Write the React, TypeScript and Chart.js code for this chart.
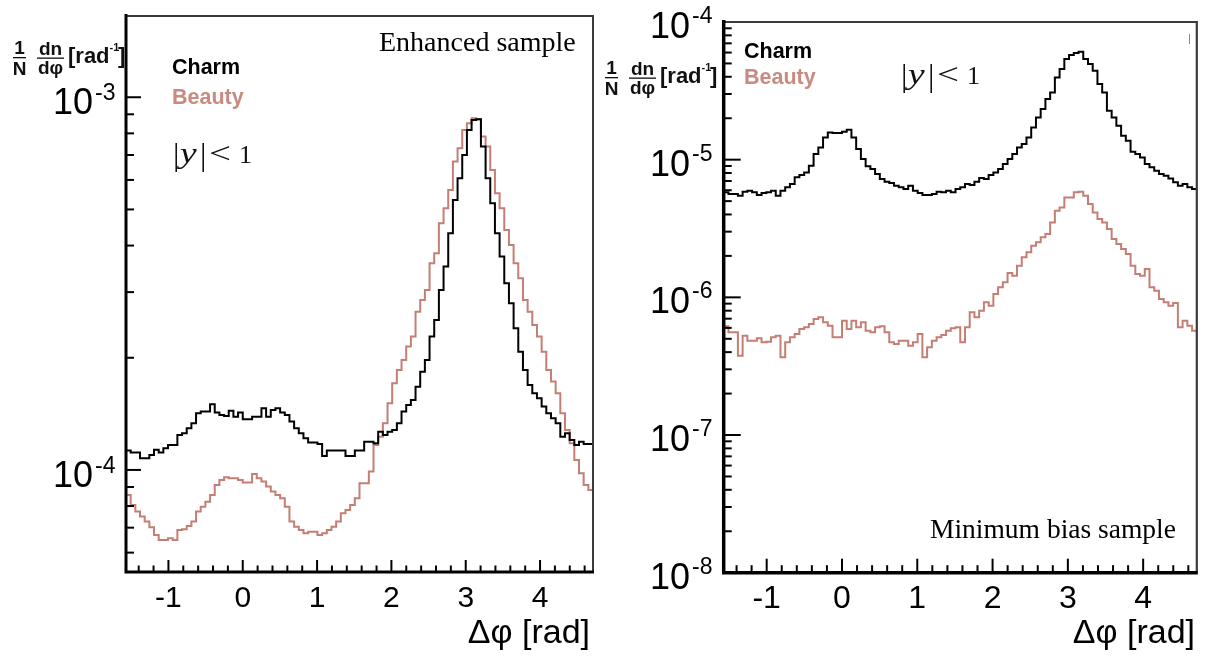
import React, { useEffect, useRef } from "react";
import { Chart, registerables } from "chart.js";

Chart.register(...registerables);

// ---------------- data ----------------
const PHI_MIN = -Math.PI / 2;
const PHI_MAX = (3 * Math.PI) / 2;
const X_TICKS = [-1, 0, 1, 2, 3, 4];

// Enhanced sample (left panel), 100 bins in delta-phi
const enhancedCharm = [
  1.127e-4, 1.113e-4, 1.113e-4, 1.075e-4, 1.075e-4, 1.097e-4, 1.132e-4, 1.113e-4, 1.143e-4, 1.167e-4,
  1.167e-4, 1.241e-4, 1.254e-4, 1.293e-4, 1.334e-4, 1.419e-4, 1.434e-4, 1.434e-4, 1.5e-4, 1.425e-4,
  1.405e-4, 1.396e-4, 1.442e-4, 1.39e-4, 1.425e-4, 1.367e-4, 1.367e-4, 1.39e-4, 1.39e-4, 1.463e-4,
  1.39e-4, 1.449e-4, 1.463e-4, 1.425e-4, 1.405e-4, 1.348e-4, 1.293e-4, 1.254e-4, 1.216e-4, 1.184e-4,
  1.184e-4, 1.174e-4, 1.09e-4, 1.127e-4, 1.127e-4, 1.127e-4, 1.127e-4, 1.09e-4, 1.09e-4, 1.127e-4,
  1.127e-4, 1.191e-4, 1.191e-4, 1.179e-4, 1.267e-4, 1.241e-4, 1.267e-4, 1.28e-4, 1.334e-4, 1.434e-4,
  1.494e-4, 1.541e-4, 1.673e-4, 1.835e-4, 1.973e-4, 2.279e-4, 2.526e-4, 3.041e-4, 3.512e-4, 4.315e-4,
  5.302e-4, 6.062e-4, 7.003e-4, 8.172e-4, 8.692e-4, 8.728e-4, 7.373e-4, 6.062e-4, 5.194e-4, 4.315e-4,
  3.736e-4, 3.168e-4, 2.801e-4, 2.399e-4, 2.077e-4, 1.854e-4, 1.69e-4, 1.605e-4, 1.557e-4, 1.479e-4,
  1.419e-4, 1.376e-4, 1.334e-4, 1.228e-4, 1.254e-4, 1.204e-4, 1.167e-4, 1.191e-4, 1.174e-4, 1.174e-4,
];

const enhancedBeauty = [
  8.568e-5, 8.054e-5, 7.73e-5, 7.495e-5, 7.267e-5, 7.017e-5, 6.692e-5, 6.489e-5, 6.489e-5, 6.555e-5,
  6.489e-5, 6.902e-5, 6.931e-5, 7.074e-5, 7.267e-5, 7.73e-5, 7.971e-5, 8.222e-5, 8.568e-5, 9.114e-5,
  9.4e-5, 9.556e-5, 9.497e-5, 9.497e-5, 9.4e-5, 9.248e-5, 9.248e-5, 9.756e-5, 9.497e-5, 9.305e-5,
  9.021e-5, 8.747e-5, 8.568e-5, 8.394e-5, 7.971e-5, 7.267e-5, 7.045e-5, 6.902e-5, 6.761e-5, 6.831e-5,
  6.831e-5, 6.692e-5, 6.761e-5, 6.902e-5, 7.045e-5, 7.267e-5, 7.651e-5, 7.811e-5, 8.054e-5, 8.394e-5,
  9.209e-5, 9.209e-5, 9.897e-5, 1.167e-4, 1.228e-4, 1.334e-4, 1.51e-4, 1.708e-4, 1.854e-4, 1.973e-4,
  2.143e-4, 2.279e-4, 2.659e-4, 2.858e-4, 3.041e-4, 3.585e-4, 3.813e-4, 4.592e-4, 5.035e-4, 5.641e-4,
  6.722e-4, 7.295e-4, 8.172e-4, 8.515e-4, 8.782e-4, 8.728e-4, 7.842e-4, 7.373e-4, 6.38e-4, 5.526e-4,
  5.035e-4, 4.406e-4, 4.015e-4, 3.585e-4, 3.267e-4, 2.858e-4, 2.659e-4, 2.449e-4, 2.279e-4, 2.077e-4,
  1.854e-4, 1.726e-4, 1.605e-4, 1.419e-4, 1.28e-4, 1.179e-4, 1.064e-4, 9.797e-5, 9.116e-5, 8.837e-5,
];

// Minimum bias sample (right panel), 100 bins in delta-phi
const minbiasCharm = [
  5.788e-6, 5.629e-6, 5.629e-6, 5.474e-6, 5.853e-6, 5.951e-6, 5.788e-6, 5.535e-6, 5.724e-6, 5.788e-6,
  5.951e-6, 5.474e-6, 5.951e-6, 6.294e-6, 6.653e-6, 7.438e-6, 7.733e-6, 8.086e-6, 9.042e-6, 1.099e-5,
  1.228e-5, 1.452e-5, 1.578e-5, 1.561e-5, 1.561e-5, 1.596e-5, 1.65e-5, 1.452e-5, 1.194e-5, 1.011e-5,
  8.94e-6, 8.551e-6, 7.863e-6, 7.233e-6, 6.918e-6, 6.765e-6, 6.471e-6, 6.294e-6, 6.119e-6, 6.471e-6,
  5.951e-6, 5.724e-6, 5.535e-6, 5.535e-6, 5.629e-6, 5.853e-6, 5.788e-6, 5.951e-6, 5.788e-6, 6.119e-6,
  6.294e-6, 6.653e-6, 6.543e-6, 6.918e-6, 7.354e-6, 7.233e-6, 7.733e-6, 8.086e-6, 8.551e-6, 9.296e-6,
  1.011e-5, 1.099e-5, 1.228e-5, 1.298e-5, 1.452e-5, 1.716e-5, 2.028e-5, 2.332e-5, 2.756e-5, 3.081e-5,
  3.96e-5, 4.551e-5, 5.378e-5, 5.751e-5, 5.946e-5, 6.081e-5, 5.378e-5, 4.95e-5, 4.426e-5, 3.542e-5,
  3.081e-5, 2.268e-5, 2.028e-5, 1.764e-5, 1.493e-5, 1.373e-5, 1.143e-5, 1.099e-5, 1.039e-5, 9.296e-6,
  8.792e-6, 8.316e-6, 7.863e-6, 7.647e-6, 7.313e-6, 6.841e-6, 6.471e-6, 6.653e-6, 6.294e-6, 6.119e-6,
];

const minbiasBeauty = [
  6.157e-7, 5.568e-7, 5.568e-7, 3.771e-7, 5.266e-7, 4.844e-7, 4.844e-7, 5.037e-7, 4.711e-7, 4.764e-7,
  5.122e-7, 5.266e-7, 3.667e-7, 4.711e-7, 5.122e-7, 5.415e-7, 5.888e-7, 6.054e-7, 6.401e-7, 6.963e-7,
  7.159e-7, 6.581e-7, 6.225e-7, 5.122e-7, 5.122e-7, 6.771e-7, 5.888e-7, 6.771e-7, 6.054e-7, 6.581e-7,
  5.726e-7, 5.568e-7, 6.054e-7, 6.157e-7, 5.568e-7, 4.711e-7, 4.582e-7, 4.844e-7, 4.844e-7, 4.456e-7,
  4.711e-7, 5.415e-7, 3.667e-7, 4.333e-7, 4.844e-7, 5.122e-7, 5.325e-7, 5.726e-7, 5.953e-7, 6.054e-7,
  4.711e-7, 6.054e-7, 7.781e-7, 7.159e-7, 8.0e-7, 9.199e-7, 8.7e-7, 1.057e-6, 1.182e-6, 1.285e-6,
  1.502e-6, 1.437e-6, 1.698e-6, 1.952e-6, 2.122e-6, 2.373e-6, 2.509e-6, 2.727e-6, 2.884e-6, 3.504e-6,
  4.259e-6, 4.503e-6, 5.323e-6, 5.323e-6, 5.788e-6, 5.853e-6, 5.474e-6, 4.761e-6, 4.142e-6, 3.706e-6,
  3.504e-6, 3.135e-6, 2.652e-6, 2.44e-6, 2.244e-6, 2.064e-6, 1.698e-6, 1.477e-6, 1.437e-6, 1.606e-6,
  1.182e-6, 1.117e-6, 9.725e-7, 9.199e-7, 8.7e-7, 9.097e-7, 6.054e-7, 6.771e-7, 6.225e-7, 5.726e-7,
];

const enhancedDecades = [-4, -3];
const minbiasDecades = [-8, -7, -6, -5, -4];

// ---------------- style ----------------
const SANS = '"Liberation Sans", Arial, Helvetica, sans-serif';
const SERIF = '"Liberation Serif", "Times New Roman", serif';
const CHARM_COLOR = "#000000";
const BEAUTY_COLOR = "#c47e74";
const BEAUTY_TEXT = "#c98a80";

function histPoints(values: number[]) {
  const n = values.length;
  const w = (PHI_MAX - PHI_MIN) / n;
  const pts = values.map((v, i) => ({ x: PHI_MIN + i * w, y: v }));
  pts.push({ x: PHI_MAX, y: values[n - 1] });
  return pts;
}

type FrameOpts = { yMajor: number; yMinor: number; xMajor: number; xMinor: number; axisW: number; borderW: number };

function drawFrame(chart: any, o: FrameOpts) {
  const { ctx, chartArea: a, scales } = chart;
  const xs = scales.x;
  const ys = scales.y;
  ctx.save();
  ctx.strokeStyle = "#000";
  ctx.lineWidth = 2;
  const eMin = Math.floor(Math.log10(ys.min));
  const eMax = Math.ceil(Math.log10(ys.max));
  for (let e = eMin; e <= eMax; e++) {
    for (let m = 1; m <= 9; m++) {
      const v = m * Math.pow(10, e);
      if (v < ys.min * 0.999 || v > ys.max * 1.001) continue;
      const py = ys.getPixelForValue(v);
      const len = m === 1 ? o.yMajor : o.yMinor;
      ctx.beginPath();
      ctx.moveTo(a.left, py);
      ctx.lineTo(a.left + len, py);
      ctx.stroke();
    }
  }
  for (let k = Math.ceil(xs.min / 0.2); k * 0.2 <= xs.max; k++) {
    const px = xs.getPixelForValue(k * 0.2);
    const len = k % 5 === 0 ? o.xMajor : o.xMinor;
    ctx.beginPath();
    ctx.moveTo(px, a.bottom);
    ctx.lineTo(px, a.bottom - len);
    ctx.stroke();
  }
  // thin top/right border
  ctx.strokeStyle = "#3a3a3a";
  ctx.lineWidth = o.borderW;
  ctx.beginPath();
  ctx.moveTo(a.left, a.top);
  ctx.lineTo(a.right, a.top);
  ctx.lineTo(a.right, a.bottom);
  ctx.stroke();
  // thick axes
  ctx.strokeStyle = "#000";
  ctx.lineWidth = o.axisW;
  ctx.beginPath();
  ctx.moveTo(a.left, a.top - 2);
  ctx.lineTo(a.left, a.bottom);
  ctx.lineTo(a.right + 1, a.bottom);
  ctx.stroke();
  ctx.restore();
}

function drawYLabels(chart: any, decades: number[], ox: number, right: number, baseOff: number, expOff: number) {
  const { ctx, scales } = chart;
  const ys = scales.y;
  ctx.save();
  ctx.translate(-ox, 0);
  ctx.fillStyle = "#000";
  ctx.textBaseline = "alphabetic";
  for (const e of decades) {
    const py = ys.getPixelForValue(Math.pow(10, e));
    ctx.font = `36px ${SANS}`;
    ctx.textAlign = "right";
    ctx.fillText("10", right, py + baseOff);
    ctx.font = `23px ${SANS}`;
    ctx.textAlign = "left";
    ctx.fillText(String(e), right + 2, py + expOff);
  }
  ctx.restore();
}

function drawYTitle(ctx: CanvasRenderingContext2D, ox: number, oy: number) {
  ctx.fillStyle = "#111";
  ctx.textBaseline = "alphabetic";
  ctx.font = `bold 19px ${SANS}`;
  ctx.textAlign = "center";
  ctx.fillText("1", ox + 19.5, oy + 54);
  ctx.fillText("N", ox + 19.5, oy + 75);
  ctx.fillText("dn", ox + 50.5, oy + 55);
  ctx.fillText("dφ", ox + 50.5, oy + 74);
  ctx.fillRect(ox + 13, oy + 57, 13, 1.3);
  ctx.fillRect(ox + 37, oy + 57.5, 27, 1.3);
  ctx.textAlign = "left";
  ctx.font = `bold 22px ${SANS}`;
  ctx.fillText("[rad", ox + 68, oy + 63);
  ctx.font = `bold 11px ${SANS}`;
  ctx.fillText("-1", ox + 109.5, oy + 51);
  ctx.font = `bold 22px ${SANS}`;
  ctx.fillText("]", ox + 118, oy + 63);
}

function drawAbsY(ctx: CanvasRenderingContext2D, x: number, base: number) {
  ctx.fillStyle = "#111";
  ctx.textAlign = "left";
  ctx.textBaseline = "alphabetic";
  ctx.font = `32px ${SERIF}`;
  ctx.fillText("|", x - 1, base + 2);
  ctx.save();
  ctx.translate(x + 6, base);
  ctx.scale(1.25, 1);
  ctx.font = `italic 30px ${SERIF}`;
  ctx.fillText("y", 0, 0);
  ctx.restore();
  ctx.font = `32px ${SERIF}`;
  ctx.fillText("|", x + 26, base + 2);
  ctx.save();
  ctx.translate(x + 35, base);
  ctx.scale(1.3, 1);
  ctx.font = `30px ${SERIF}`;
  ctx.fillText("<", 0, 0);
  ctx.restore();
  ctx.font = `26px ${SERIF}`;
  ctx.fillText("1", x + 65, base);
}

function drawLegend(ctx: CanvasRenderingContext2D, x: number, y1: number, y2: number) {
  ctx.textAlign = "left";
  ctx.textBaseline = "alphabetic";
  ctx.font = `bold 21.5px ${SANS}`;
  ctx.fillStyle = CHARM_COLOR;
  ctx.fillText("Charm", x, y1);
  ctx.fillStyle = BEAUTY_TEXT;
  ctx.fillText("Beauty", x, y2);
}

function drawXTitle(ctx: CanvasRenderingContext2D, right: number, base: number) {
  ctx.fillStyle = "#000";
  ctx.textAlign = "right";
  ctx.textBaseline = "alphabetic";
  ctx.font = `34px ${SANS}`;
  ctx.fillText("Δφ [rad]", right, base);
}

const leftDecor = {
  id: "leftDecor",
  afterDraw(chart: any) {
    drawFrame(chart, { yMajor: 15, yMinor: 8, xMajor: 12, xMinor: 6.5, axisW: 3, borderW: 2 });
    drawYLabels(chart, enhancedDecades, 0, 93, 17, 3);
    const ctx = chart.ctx as CanvasRenderingContext2D;
    ctx.save();
    drawYTitle(ctx, 0, 0);
    drawLegend(ctx, 172, 74, 104);
    drawAbsY(ctx, 174, 163);
    ctx.fillStyle = "#000";
    ctx.textAlign = "left";
    ctx.font = `28px ${SERIF}`;
    ctx.fillText("Enhanced sample", 379, 51);
    drawXTitle(ctx, 590, 643);
    ctx.restore();
  },
};

const rightDecor = {
  id: "rightDecor",
  afterDraw(chart: any) {
    drawFrame(chart, { yMajor: 17, yMinor: 8, xMajor: 14, xMinor: 7.5, axisW: 3.5, borderW: 2.2 });
    drawYLabels(chart, minbiasDecades, 600, 690, 16, 1);
    const ctx = chart.ctx as CanvasRenderingContext2D;
    ctx.save();
    ctx.translate(-600, 0);
    drawYTitle(ctx, 592, 20);
    drawLegend(ctx, 744, 58, 84);
    drawAbsY(ctx, 902, 84);
    ctx.fillStyle = "#000";
    ctx.textAlign = "left";
    ctx.font = `27.5px ${SERIF}`;
    ctx.fillText("Minimum bias sample", 930, 538);
    drawXTitle(ctx, 1195, 643);
    ctx.strokeStyle = "#888";
    ctx.lineWidth = 1;
    ctx.beginPath();
    ctx.moveTo(1189.5, 34);
    ctx.lineTo(1189.5, 44);
    ctx.stroke();
    ctx.restore();
  },
};

type PanelCfg = {
  charm: number[];
  beauty: number[];
  yMin: number;
  yMax: number;
  yWidth: number;
  xHeight: number;
  padTop: number;
  padRight: number;
  tickFont: number;
  tickPad: number;
  plugin: any;
};

function makeConfig(p: PanelCfg): any {
  return {
    type: "line",
    data: {
      datasets: [
        {
          label: "Charm",
          data: histPoints(p.charm),
          borderColor: CHARM_COLOR,
          borderWidth: 2,
          pointRadius: 0,
          stepped: true,
          fill: false,
        },
        {
          label: "Beauty",
          data: histPoints(p.beauty),
          borderColor: BEAUTY_COLOR,
          borderWidth: 2,
          pointRadius: 0,
          stepped: true,
          fill: false,
        },
      ],
    },
    options: {
      responsive: false,
      animation: false,
      devicePixelRatio: 1,
      events: [],
      layout: { padding: { left: 0, top: p.padTop, right: p.padRight, bottom: 0 } },
      plugins: { legend: { display: false }, tooltip: { enabled: false }, title: { display: false } },
      scales: {
        x: {
          type: "linear",
          min: PHI_MIN,
          max: PHI_MAX,
          afterBuildTicks: (s: any) => {
            s.ticks = X_TICKS.map((v) => ({ value: v }));
          },
          afterFit: (s: any) => {
            s.height = p.xHeight;
          },
          ticks: {
            font: { family: SANS, size: p.tickFont },
            color: "#000",
            padding: p.tickPad,
            autoSkip: false,
            maxRotation: 0,
            minRotation: 0,
            callback: (v: any) => String(v),
          },
          grid: { display: false, drawTicks: false },
          border: { display: false },
        },
        y: {
          type: "logarithmic",
          min: p.yMin,
          max: p.yMax,
          afterFit: (s: any) => {
            s.width = p.yWidth;
          },
          ticks: { display: false },
          grid: { display: false, drawTicks: false },
          border: { display: false },
        },
      },
    },
    plugins: [p.plugin],
  };
}

export default function App() {
  const leftRef = useRef<HTMLCanvasElement>(null);
  const rightRef = useRef<HTMLCanvasElement>(null);

  useEffect(() => {
    const c1 = new Chart(
      leftRef.current as HTMLCanvasElement,
      makeConfig({
        charm: enhancedCharm,
        beauty: enhancedBeauty,
        yMin: 5.323e-5,
        yMax: 1.652e-3,
        yWidth: 126,
        xHeight: 87,
        padTop: 16,
        padRight: 7,
        tickFont: 30,
        tickPad: 9,
        plugin: leftDecor,
      })
    );
    const c2 = new Chart(
      rightRef.current as HTMLCanvasElement,
      makeConfig({
        charm: minbiasCharm,
        beauty: minbiasBeauty,
        yMin: 1e-8,
        yMax: 1e-4,
        yWidth: 123.7,
        xHeight: 86.3,
        padTop: 22,
        padRight: 9.2,
        tickFont: 32,
        tickPad: 7,
        plugin: rightDecor,
      })
    );
    return () => {
      c1.destroy();
      c2.destroy();
    };
  }, []);

  return (
    <div
      style={{
        position: "absolute",
        left: 0,
        top: 0,
        width: 1206,
        height: 659,
        background: "#fff",
        overflow: "hidden",
      }}
    >
      <canvas
        ref={leftRef}
        width={600}
        height={659}
        style={{ position: "absolute", left: 0, top: 0, width: 600, height: 659 }}
      />
      <canvas
        ref={rightRef}
        width={606}
        height={659}
        style={{ position: "absolute", left: 600, top: 0, width: 606, height: 659 }}
      />
    </div>
  );
}
